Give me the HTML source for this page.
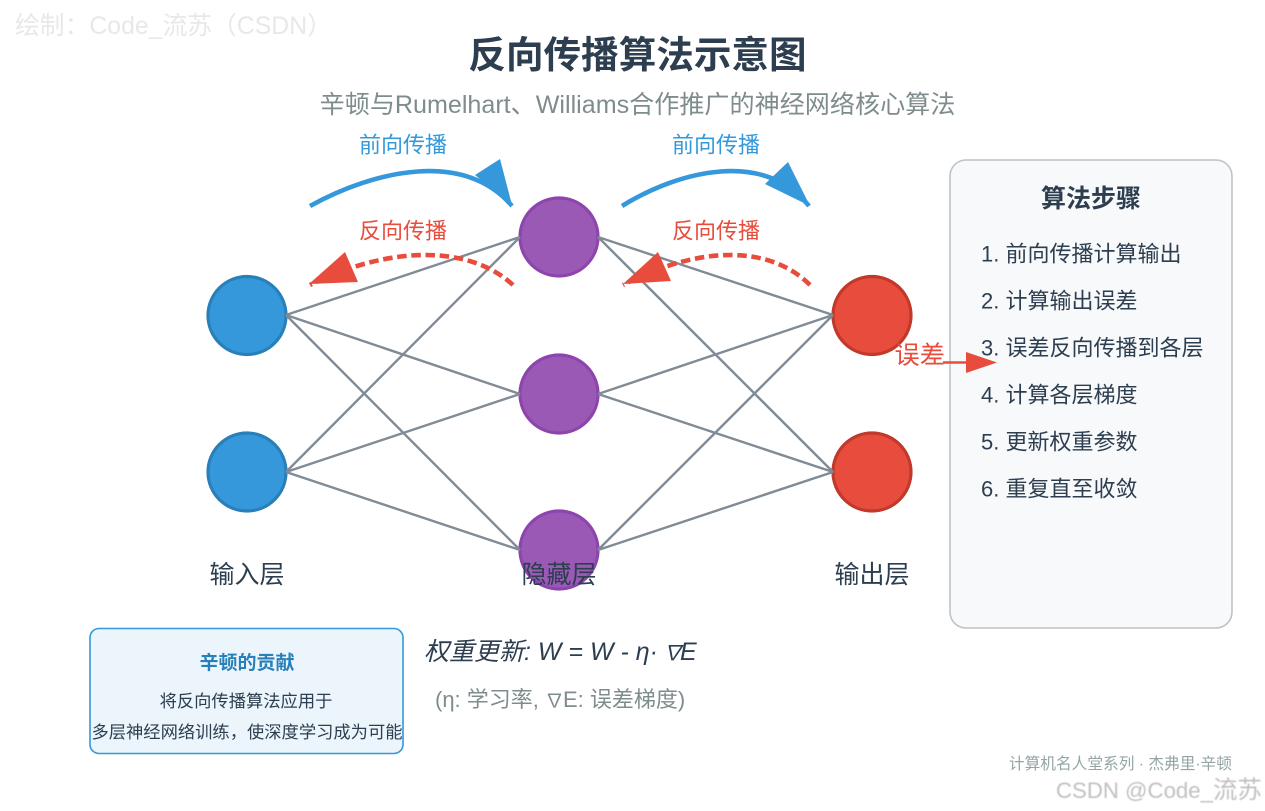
<!DOCTYPE html>
<html><head><meta charset="utf-8"><style>
html,body{margin:0;padding:0;background:#fff;width:1265px;height:811px;overflow:hidden}
svg{display:block}
text{font-family:"Liberation Sans","Noto Sans CJK SC",sans-serif}
</style></head><body>
<svg width="1265" height="811" viewBox="0 0 1265 811" xmlns="http://www.w3.org/2000/svg">
<defs><filter id="b" x="-5%" y="-30%" width="110%" height="160%"><feGaussianBlur stdDeviation="0.5"/></filter></defs>
<rect width="1265" height="811" fill="#fff"/>
<text x="15" y="34" font-size="24.8" fill="#e8e8e8">绘制：Code_流苏（CSDN）</text>
<text x="637.5" y="68" font-size="37.6" font-weight="bold" fill="#2c3e50" text-anchor="middle">反向传播算法示意图</text>
<text x="637.5" y="113" font-size="25.1" fill="#7f8c8d" text-anchor="middle">辛顿与Rumelhart、Williams合作推广的神经网络核心算法</text>
<g stroke-width="3.2">
<circle cx="247" cy="315.5" r="39" fill="#3498db" stroke="#2980b9"/>
<circle cx="247" cy="472" r="39" fill="#3498db" stroke="#2980b9"/>
<circle cx="559" cy="237" r="39" fill="#9b59b6" stroke="#8e44ad"/>
<circle cx="559" cy="394" r="39" fill="#9b59b6" stroke="#8e44ad"/>
<circle cx="559" cy="550" r="39" fill="#9b59b6" stroke="#8e44ad"/>
<circle cx="872" cy="315.5" r="39" fill="#e74c3c" stroke="#c0392b"/>
<circle cx="872" cy="472" r="39" fill="#e74c3c" stroke="#c0392b"/>
</g>
<g stroke="#808b96" stroke-width="2.4" fill="none">
<path d="M286 315L520 237M286 315L520 394M286 315L520 550M286 472L520 237M286 472L520 394M286 472L520 550"/>
<path d="M598 237L833 315M598 237L833 472M598 394L833 315M598 394L833 472M598 550L833 315M598 550L833 472"/>
</g>
<g font-size="25" fill="#2c3e50" text-anchor="middle">
<text x="247" y="583">输入层</text>
<text x="559" y="583">隐藏层</text>
<text x="872" y="583">输出层</text>
</g>
<path d="M310 206C375 170 465 150 512 206" fill="none" stroke="#3498db" stroke-width="4.6"/>
<polygon points="500,159 475,175 512,205" fill="#3498db"/>
<path d="M622 206C680 170 765 150 809 206" fill="none" stroke="#3498db" stroke-width="4.6"/>
<polygon points="788,162 765,184 810,206" fill="#3498db"/>
<path d="M513 285C470 245 390 245 310 285" fill="none" stroke="#e74c3c" stroke-width="4.6" stroke-dasharray="9.5 4.7"/>
<polygon points="345,252 358,282 309,284" fill="#e74c3c"/>
<path d="M810 285C770 245 700 245 623 285" fill="none" stroke="#e74c3c" stroke-width="4.6" stroke-dasharray="9.5 4.7"/>
<polygon points="658,252 671,281 623,284" fill="#e74c3c"/>
<g font-size="22" text-anchor="middle">
<text x="403" y="152.5" fill="#3498db">前向传播</text>
<text x="716" y="152.5" fill="#3498db">前向传播</text>
<text x="403" y="238.5" fill="#e74c3c">反向传播</text>
<text x="716" y="238.5" fill="#e74c3c">反向传播</text>
</g>
<rect x="950" y="160" width="282" height="468" rx="16" fill="#f8f9fa" stroke="#bdc3c7" stroke-width="1.6"/>
<text x="1091" y="207" font-size="25" font-weight="bold" fill="#2c3e50" text-anchor="middle">算法步骤</text>
<g font-size="22" fill="#2c3e50">
<text x="981" y="261.5">1. 前向传播计算输出</text>
<text x="981" y="308.5">2. 计算输出误差</text>
<text x="981" y="355.5">3. 误差反向传播到各层</text>
<text x="981" y="402.5">4. 计算各层梯度</text>
<text x="981" y="449.5">5. 更新权重参数</text>
<text x="981" y="496.5">6. 重复直至收敛</text>
</g>
<text x="894.5" y="363.5" font-size="25.2" fill="#e74c3c">误差</text>
<path d="M943 362.5H972" stroke="#e74c3c" stroke-width="2.4"/>
<polygon points="966,352 966,373 997,362.5" fill="#e74c3c"/>
<rect x="90" y="628.5" width="313" height="125" rx="9" fill="#ebf5fb" stroke="#3498db" stroke-width="1.6"/>
<text x="247" y="669" font-size="19" font-weight="bold" fill="#2980b9" text-anchor="middle">辛顿的贡献</text>
<g font-size="17.3" fill="#2c3e50" text-anchor="middle">
<text x="246" y="707">将反向传播算法应用于</text>
<text x="247" y="738">多层神经网络训练，使深度学习成为可能</text>
</g>
<text x="424" y="660" font-size="25" font-style="italic" fill="#2c3e50">权重更新: W = W - η·<tspan x="662" font-size="21">∇</tspan><tspan x="680">E</tspan></text>
<text x="435" y="707" font-size="22" fill="#7f8c8d">(η: 学习率, <tspan x="545" font-size="19">∇</tspan><tspan x="563">E: 误差梯度)</tspan></text>
<text x="1232" y="769" font-size="15.7" fill="#95a5a6" text-anchor="end">计算机名人堂系列 · 杰弗里·辛顿</text>
<text x="1056" y="798" font-size="22.2" fill="#c0c0c0" filter="url(#b)">CSDN @Code_<tspan font-size="24.4">流苏</tspan></text>
</svg>
</body></html>
